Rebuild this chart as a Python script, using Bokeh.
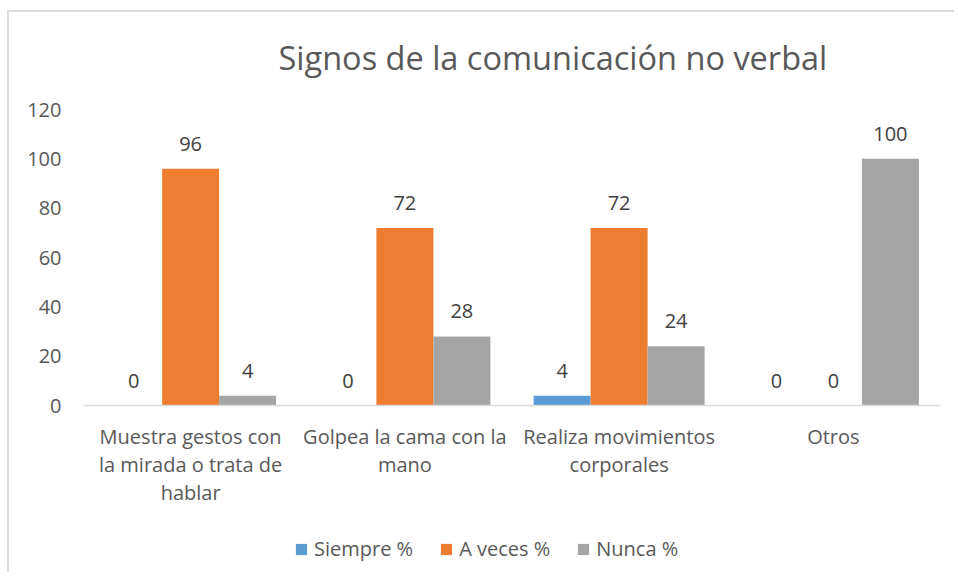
from bokeh.plotting import figure
from bokeh.layouts import column
from bokeh.models import FactorRange, Legend, LegendItem, ColumnDataSource, FixedTicker, LabelSet, Label
from bokeh.transform import dodge
from bokeh.core.properties import value
from bokeh.embed import file_html
from bokeh.resources import INLINE

title_text = "Signos de la comunicación no verbal"
categories = ["Muestra gestos con\nla mirada o trata de\nhablar",
              "Golpea la cama con la\nmano",
              "Realiza movimientos\ncorporales",
              "Otros"]
series_names = ["Siempre %", "A veces %", "Nunca %"]
siempre = [0, 0, 4, 0]
a_veces = [96, 72, 72, 0]
nunca = [4, 28, 24, 100]
y_ticks = [0, 20, 40, 60, 80, 100, 120]

colors = ["#5B9BD5", "#ED7D31", "#A5A5A5"]
FONT = "Open Sans"
TXT = "#595959"
W = 945


def strip(height):
    f = figure(width=W, height=height, output_backend="svg", toolbar_location=None,
               x_range=(0, 1), y_range=(0, 1), x_axis_location=None, y_axis_location=None,
               min_border=0, min_border_left=0, min_border_right=0,
               min_border_top=0, min_border_bottom=0)
    f.grid.grid_line_color = None
    f.outline_line_color = None
    return f


# title strip
top = strip(77)
top.add_layout(Label(x=195, y=32, x_units="screen", y_units="screen", text=title_text,
                     text_align="left", text_baseline="middle", text_font=FONT,
                     text_font_size="32.5px", text_color=TXT))

src = ColumnDataSource(dict(cat=categories, s0=siempre, s1=a_veces, s2=nunca,
                            l0=[str(v) for v in siempre],
                            l1=[str(v) for v in a_veces],
                            l2=[str(v) for v in nunca]))

p = figure(x_range=FactorRange(*categories, range_padding=0), y_range=(0, 120),
           width=W, height=443, output_backend="svg", toolbar_location=None,
           min_border_left=74, min_border_right=14, min_border_top=20, min_border_bottom=127)
p.outline_line_color = None
p.grid.grid_line_color = None

bw = 0.266
offs = [-bw, 0, bw]
for i, key in enumerate(["s0", "s1", "s2"]):
    p.vbar(x=dodge("cat", offs[i], range=p.x_range), top=key, width=bw,
           source=src, fill_color=colors[i], line_color=None)
    lab = LabelSet(x=dodge("cat", offs[i], range=p.x_range), y=key, text="l%d" % i,
                   source=src, text_align="center", text_baseline="bottom", y_offset=18,
                   text_font=value(FONT), text_font_size="20px", text_color="#404040")
    p.add_layout(lab)

p.yaxis.ticker = FixedTicker(ticks=y_ticks)
p.yaxis.axis_line_color = None
p.yaxis.major_tick_line_color = None
p.yaxis.minor_tick_line_color = None
p.yaxis.major_label_text_font = FONT
p.yaxis.major_label_text_font_size = "20px"
p.yaxis.major_label_text_color = TXT
p.yaxis.major_label_standoff = 16

p.xaxis.axis_line_color = "#D9D9D9"
p.xaxis.axis_line_width = 1.5
p.xaxis.major_tick_line_color = None
p.xaxis.minor_tick_line_color = None
p.xaxis.major_label_text_font = FONT
p.xaxis.major_label_text_font_size = "20px"
p.xaxis.major_label_text_color = TXT
p.xaxis.major_label_standoff = 11
p.xaxis.major_label_text_line_height = 1.05

# legend strip below the chart (swatch renderers have zero size)
lg = strip(40)
items = []
for c, name in zip(colors, series_names):
    r = lg.vbar(x=[0.5], top=[0], bottom=0, width=0, fill_color=c, line_color=None)
    items.append(LegendItem(label=name, renderers=[r]))
legend = Legend(items=items, orientation="horizontal", location=(211, 10),
                label_text_font=FONT, label_text_font_size="20px", label_text_color=TXT,
                glyph_width=14, glyph_height=14, spacing=26, label_standoff=6,
                border_line_color=None, background_fill_alpha=0, margin=0, padding=0)
lg.add_layout(legend)

layout = column(top, p, lg, spacing=0,
                styles={"border-top": "2px solid #DDDDDD", "border-left": "2px solid #DDDDDD",
                        "margin-left": "7px", "margin-top": "10px"})

open("out.html", "w").write(file_html(layout, INLINE))
